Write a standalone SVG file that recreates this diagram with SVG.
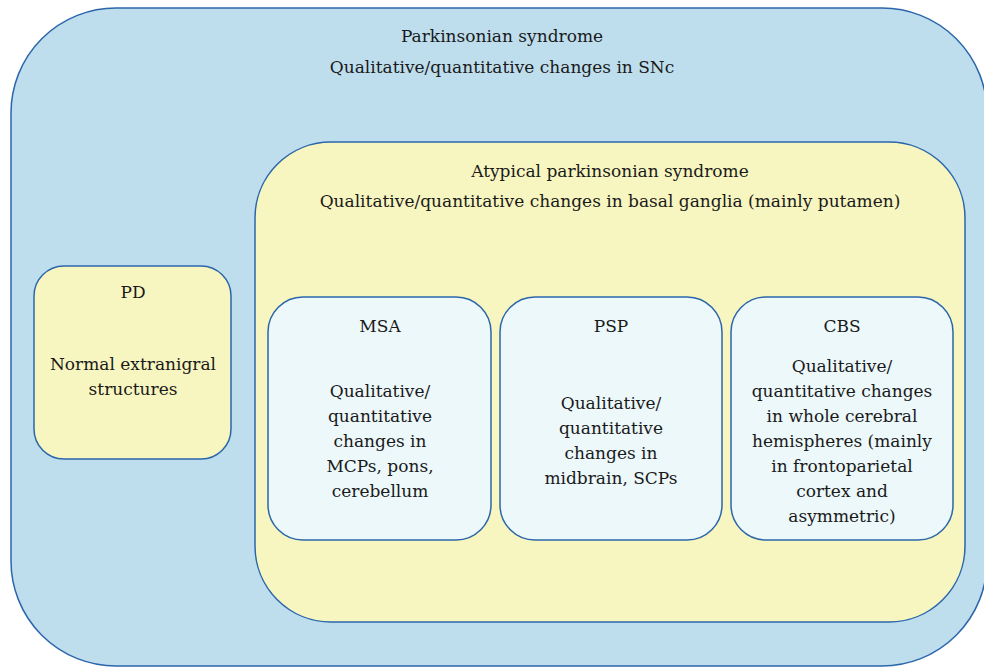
<svg xmlns="http://www.w3.org/2000/svg" width="984" height="667" viewBox="0 0 984 667">
<style>
.box{stroke:#2B66AA;stroke-width:1.5}
.blue{fill:#BEDEEE}
.yel{fill:#F8F6C0}
.lt{fill:#ECF8FA}
</style>
<rect width="984" height="667" fill="#ffffff"/>
<g font-family="DejaVu Serif, serif" font-size="17" fill="#1a1a1a" text-anchor="middle">
<g id="parkinsonian">
<rect class="box blue" x="11" y="8" width="976" height="658" rx="105" ry="105"/>
<text x="502" y="42">Parkinsonian syndrome</text>
<text x="502" y="73">Qualitative/quantitative changes in SNc</text>
</g>
<g id="atypical">
<rect class="box yel" x="255" y="142" width="710" height="480" rx="76" ry="76"/>
<text x="610" y="177">Atypical parkinsonian syndrome</text>
<text x="610" y="207">Qualitative/quantitative changes in basal ganglia (mainly putamen)</text>
</g>
<g id="pd">
<rect class="box yel" x="34" y="266" width="197" height="193" rx="30" ry="30"/>
<text x="133" y="298">PD</text>
<text x="133" y="370">Normal extranigral</text>
<text x="133" y="395">structures</text>
</g>
<g id="msa">
<rect class="box lt" x="268" y="297" width="223" height="243" rx="35" ry="35"/>
<text x="380" y="332">MSA</text>
<text x="380" y="397">Qualitative/</text>
<text x="380" y="422">quantitative</text>
<text x="380" y="447">changes in</text>
<text x="380" y="472">MCPs, pons,</text>
<text x="380" y="497">cerebellum</text>
</g>
<g id="psp">
<rect class="box lt" x="500" y="297" width="222" height="243" rx="35" ry="35"/>
<text x="611" y="332">PSP</text>
<text x="611" y="409">Qualitative/</text>
<text x="611" y="434">quantitative</text>
<text x="611" y="459">changes in</text>
<text x="611" y="484">midbrain, SCPs</text>
</g>
<g id="cbs">
<rect class="box lt" x="731" y="297" width="222" height="243" rx="35" ry="35"/>
<text x="842" y="332">CBS</text>
<text x="842" y="372">Qualitative/</text>
<text x="842" y="397">quantitative changes</text>
<text x="842" y="422">in whole cerebral</text>
<text x="842" y="447">hemispheres (mainly</text>
<text x="842" y="472">in frontoparietal</text>
<text x="842" y="497">cortex and</text>
<text x="842" y="522">asymmetric)</text>
</g>
</g>
<g id="connectors"></g>
</svg>
